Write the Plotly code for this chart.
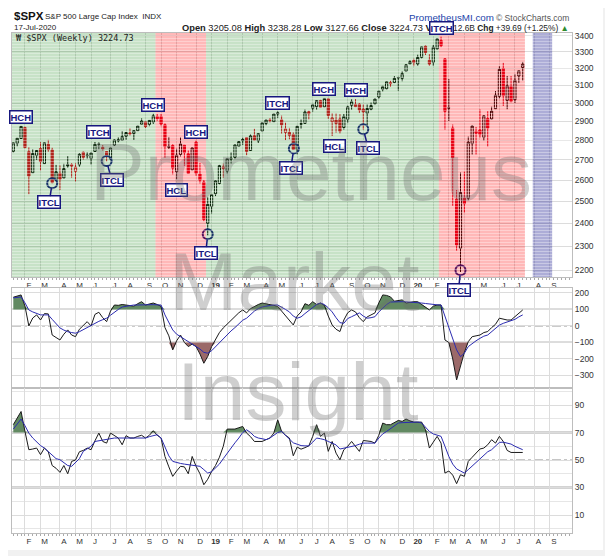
import numpy as np
import pandas as pd
import plotly.graph_objects as go

# weekly bars, Friday dates
dates = pd.date_range("2018-01-12", periods=132, freq="W-FRI")
prev_close0 = 2743.15

opens = [2743, 2784, 2809, 2867, 2741, 2636, 2722, 2757, 2681, 2779,
         2750, 2599, 2633, 2611, 2676, 2675, 2643, 2675, 2738, 2724,
         2706, 2742, 2781, 2763, 2742, 2704, 2775, 2797, 2800, 2821,
         2838, 2835, 2850, 2885, 2897, 2884, 2896, 2926, 2926, 2882,
         2763, 2773, 2641, 2727, 2774, 2730, 2650, 2790, 2630, 2591,
         2400, 2476, 2535, 2584, 2657, 2644, 2703, 2712, 2769, 2798,
         2814, 2747, 2823, 2797, 2848, 2889, 2908, 2898, 2940, 2908,
         2841, 2841, 2830, 2751, 2885, 2889, 2952, 2972, 2980, 3014,
         2979, 3024, 2898, 2907, 2913, 2867, 2910, 2988, 2980, 2994,
         2967, 2944, 2966, 2996, 3034, 3078, 3081, 3116, 3117, 3143,
         3141, 3183, 3227, 3247, 3226, 3266, 3334, 3248, 3236, 3318,
         3370, 3257, 2974, 2864, 2509, 2291, 2514, 2514, 2782, 2846,
         2854, 2815, 2915, 2913, 2969, 3038, 3199, 3015, 3094, 3019,
         3155, 3205.08]
highs = [2787, 2811, 2873, 2871, 2763, 2754, 2748, 2790, 2787, 2802,
         2761, 2675, 2672, 2680, 2718, 2683, 2682, 2733, 2742, 2739,
         2736, 2791, 2789, 2775, 2743, 2760, 2804, 2816, 2848, 2841,
         2863, 2851, 2876, 2916, 2898, 2906, 2941, 2940, 2940, 2889,
         2817, 2779, 2756, 2815, 2775, 2747, 2761, 2800, 2685, 2601,
         2520, 2532, 2598, 2675, 2681, 2708, 2738, 2776, 2795, 2814,
         2816, 2831, 2860, 2836, 2893, 2910, 2917, 2940, 2954, 2931,
         2893, 2865, 2841, 2876, 2911, 2964, 2958, 2996, 3014, 3018,
         3028, 3028, 2944, 2943, 2939, 2940, 2985, 3021, 3022, 3000,
         2993, 2993, 3003, 3027, 3067, 3098, 3121, 3127, 3154, 3150,
         3183, 3226, 3248, 3258, 3282, 3330, 3338, 3285, 3342, 3385,
         3394, 3260, 3137, 2883, 2553, 2637, 2641, 2819, 2880, 2870,
         2965, 2933, 2955, 2980, 3068, 3212, 3233, 3155, 3155, 3166,
         3186, 3238.28]
lows = [2737, 2768, 2808, 2759, 2533, 2636, 2700, 2647, 2681, 2741,
        2585, 2594, 2553, 2610, 2660, 2612, 2594, 2666, 2701, 2705,
        2676, 2742, 2753, 2747, 2692, 2699, 2770, 2789, 2800, 2803,
        2825, 2802, 2850, 2885, 2864, 2874, 2886, 2903, 2874, 2710,
        2755, 2628, 2604, 2717, 2670, 2631, 2649, 2621, 2584, 2409,
        2347, 2444, 2524, 2580, 2612, 2631, 2681, 2704, 2766, 2776,
        2723, 2747, 2800, 2786, 2848, 2879, 2893, 2898, 2919, 2835,
        2801, 2805, 2750, 2728, 2860, 2887, 2910, 2953, 2964, 2976,
        2978, 2914, 2822, 2840, 2836, 2856, 2891, 2964, 2978, 2946,
        2856, 2874, 2960, 2992, 3023, 3066, 3077, 3091, 3113, 3070,
        3124, 3183, 3226, 3213, 3214, 3260, 3280, 3214, 3214, 3315,
        3328, 2856, 2902, 2479, 2281, 2192, 2447, 2504, 2727, 2727,
        2812, 2798, 2767, 2910, 2969, 3026, 2984, 2966, 3004, 3000,
        3115, 3127.66]
closes = [2786.24, 2810.30, 2872.87, 2762.13, 2619.55, 2732.22, 2747.30, 2691.25, 2786.57, 2752.01,
          2588.26, 2640.87, 2604.47, 2656.30, 2670.14, 2669.91, 2663.42, 2727.72, 2712.97, 2721.33,
          2734.62, 2779.03, 2779.66, 2754.88, 2718.37, 2759.82, 2801.31, 2801.83, 2818.82, 2840.35,
          2833.28, 2850.13, 2874.69, 2901.52, 2871.68, 2904.98, 2929.67, 2913.98, 2885.57, 2767.13,
          2767.78, 2658.69, 2723.06, 2781.01, 2736.27, 2632.56, 2760.17, 2633.08, 2599.95, 2416.62,
          2485.74, 2531.94, 2596.26, 2670.71, 2664.76, 2706.53, 2707.88, 2775.60, 2792.67, 2803.69,
          2743.07, 2822.48, 2800.71, 2834.40, 2892.74, 2907.41, 2905.03, 2939.88, 2945.64, 2881.40,
          2859.53, 2826.06, 2752.06, 2873.34, 2886.98, 2950.46, 2941.76, 2990.41, 3013.77, 2976.61,
          3025.86, 2932.05, 2918.65, 2888.68, 2847.11, 2926.46, 2978.71, 3007.39, 2992.07, 2961.79,
          2952.01, 2970.27, 2986.20, 3022.55, 3066.91, 3093.08, 3120.46, 3110.29, 3140.98, 3145.91,
          3168.80, 3221.22, 3240.02, 3234.85, 3265.35, 3329.62, 3295.47, 3225.52, 3327.71, 3380.16,
          3337.75, 2954.22, 2972.37, 2711.02, 2304.92, 2541.47, 2488.65, 2789.82, 2874.56, 2836.74,
          2830.71, 2929.80, 2863.70, 2955.45, 3044.31, 3193.93, 3041.31, 3097.74, 3009.05, 3130.01,
          3185.04, 3224.73]

cci = [174, 180, 188, 120, 0, 48, 67, 36, 75, 73,
       -55, -70, -85, -50, -24, -55, -65, -20, 6, 26,
       0, 70, 83, 50, 26, 90, 127, 125, 130, 127,
       122, 120, 135, 147, 127, 132, 139, 130, 119, -10,
       -60, -145, -90, -55, -100, -125, -110, -125, -170, -226,
       -185, -125, -80, -40, -12, 12, 36, 60, 80, 97,
       79, 105, 120, 130, 139, 135, 127, 125, 118, 90,
       60, 35, 6, 60, 85, 135, 125, 147, 130, 139,
       125, 60, 6, -20, -34, 36, 80, 97, 85, 50,
       26, 55, 67, 79, 140, 188, 185, 176, 150, 155,
       158, 139, 145, 147, 147, 130, 115, 97, 120, 127,
       127, -85, -100, -200, -327, -240, -160, -95, -65, -60,
       -55, -40, -34, -10, 10, 47, 40, 36, 36, 55,
       75, 97]
cci_ma = [170, 173, 176, 140, 97, 85, 75, 67, 67, 67,
          40, 15, -12, -25, -35, -40, -44, -35, -22, -10,
          6, 15, 28, 38, 47, 65, 85, 100, 115, 120,
          124, 127, 127, 128, 130, 130, 129, 128, 127, 67,
          20, -24, -50, -65, -80, -95, -105, -120, -140, -160,
          -165, -150, -125, -105, -80, -55, -30, -10, 15, 35,
          47, 70, 90, 105, 115, 120, 125, 127, 127, 115,
          100, 85, 60, 47, 55, 75, 95, 115, 130, 139,
          130, 110, 85, 50, 20, 16, 45, 56, 70, 79,
          60, 47, 50, 56, 85, 110, 130, 145, 147, 147,
          147, 146, 145, 143, 140, 139, 136, 132, 130, 128,
          127, 60, -4, -80, -145, -186, -165, -125, -105, -90,
          -75, -62, -55, -35, -15, 5, 16, 25, 32, 40,
          55, 67]
rsi = [75.7, 80, 85.3, 70.8, 57.5, 58, 58.7, 53.9, 58.7, 56,
       46, 44, 41, 46, 40, 49, 50, 56, 57, 58.7,
       57.5, 64, 69.6, 63.5, 62.3, 69.6, 68, 66, 61.1, 67.7,
       66, 66, 67.2, 68, 66, 68, 71.3, 68, 66, 52.6,
       45, 38.1, 42, 45.4, 45, 40, 52.6, 45.4, 40, 32,
       36, 41.7, 46, 52, 60, 72.5, 72.5, 72.5, 73.5, 74.4,
       69.6, 67, 63.5, 63.5, 63.5, 64.8, 66, 69.6, 79.3, 70.8,
       68, 66, 53.1, 59.4, 57.9, 59, 60.3, 67.2, 75.7, 67.2,
       69.6, 56.3, 63.5, 55, 50.2, 57.5, 60, 63.5, 59.9, 56.3,
       64.2, 63.8, 63.5, 62.3, 68, 76.9, 75.7, 75.7, 77, 78.8,
       78.1, 79.8, 78.5, 77.6, 77.6, 77.6, 72, 58.7, 63, 67.2,
       62.3, 40.5, 42, 39, 32.8, 39.3, 38.1, 49, 52, 55.1,
       58, 58.7, 61.1, 64.8, 62.3, 67.2, 63.5, 57, 55.5, 55.5,
       55.5, 55.5]
rsi_ma = [72.5, 76, 79.8, 75, 69.6, 66, 63, 60.5, 58.7, 56,
          53, 51, 50.2, 48, 46, 45.4, 48, 51, 56.3, 58,
          60, 63.5, 64, 64.5, 65, 66, 66, 66, 66, 66,
          66, 66, 66, 66, 66, 67, 67.5, 68.4, 66, 59.9,
          53, 49, 48, 47.5, 47, 46.6, 46, 45.8, 45.4, 43,
          40.5, 41.5, 44.2, 47, 51, 55.1, 59, 62.5, 66, 70,
          72, 70, 67.2, 66, 65.5, 64.8, 66, 68, 70, 70.8,
          68, 64.8, 62.5, 61.5, 60.5, 60.3, 60.3, 63, 66, 65.5,
          64.8, 63.5, 62.3, 61, 58, 58.5, 59, 59.9, 60.5, 61.5,
          62.3, 62.3, 62.3, 62.3, 66, 69, 70.8, 73, 75, 76.9,
          77.2, 77.4, 77.6, 77.6, 77.6, 77, 74, 70.8, 69, 68,
          67.2, 60, 52.6, 47, 43.5, 42, 40.5, 43, 45.5, 47.8,
          51, 53.5, 56, 57.5, 60, 62.8, 63, 62.5, 61.6, 60,
          58.5, 57.5]

# month ticks (first bar of each month)
tick_dates = ["2018-02-02", "2018-03-02", "2018-04-06", "2018-05-04", "2018-06-01", "2018-07-06",
              "2018-08-03", "2018-09-07", "2018-10-05", "2018-11-02", "2018-12-07",
              "2019-01-04", "2019-02-01", "2019-03-01", "2019-04-05", "2019-05-03", "2019-06-07",
              "2019-07-05", "2019-08-02", "2019-09-06", "2019-10-04", "2019-11-01", "2019-12-06",
              "2020-01-03", "2020-02-07", "2020-03-06", "2020-04-03", "2020-05-01", "2020-06-05",
              "2020-07-02", "2020-08-07", "2020-09-04"]
tick_text = ["F", "M", "A", "M", "J", "J", "A", "S", "O", "N", "D",
             "<b>19</b>", "F", "M", "A", "M", "J", "J", "A", "S", "O", "N", "D",
             "<b>20</b>", "F", "M", "A", "M", "J", "J", "A", "S"]
price_ticks = [2200, 2300, 2400, 2500, 2600, 2700, 2800, 2900, 3000, 3100, 3200, 3300, 3400]

# cycle zones
zone_start = ["2018-01-09", "2018-09-25", "2018-12-25", "2020-02-17", "2020-08-04"]
zone_end = ["2018-09-25", "2018-12-25", "2020-02-17", "2020-07-21", "2020-09-08"]
zone_color = ["rgba(30,140,30,0.25)", "rgba(255,0,0,0.28)", "rgba(30,140,30,0.25)",
              "rgba(255,0,0,0.28)", "rgba(60,60,160,0.42)"]

# cycle labels
label_text = ["HCH", "ITCH", "HCH", "HCH", "HCL", "ITCH", "HCH", "HCH", "HCL"]
label_date = ["2018-01-26", "2018-06-15", "2018-09-21", "2018-12-07", "2018-11-02",
              "2019-05-03", "2019-07-26", "2019-09-20", "2019-08-14"]
label_price = [2921, 2842, 2989, 2842, 2554, 3000, 3079, 3075, 2769]
itcl_date = ["2018-03-23", "2018-06-29", "2018-12-28", "2019-06-01", "2019-10-04", "2020-03-27"]
itcl_price = [2585, 2694, 2351, 2758, 2858, 2199]
itcl_dx = [-3, 5, -2, -3, 5, -2]
itcl_dy = [19, 19, 19, 20, 19, 20]

navy = "#16167e"
red = "#e0001b"
grid = "#dcdcdc"
frame = "#bdbdbd"

closes_arr = np.array(closes)
prev = np.concatenate([[prev_close0], closes_arr[:-1]])
up = closes_arr >= prev

fig = go.Figure()

for mask, col in ((up, "#000000"), (~up, red)):
    fig.add_trace(go.Candlestick(
        x=dates[mask], open=np.array(opens)[mask], high=np.array(highs)[mask],
        low=np.array(lows)[mask], close=closes_arr[mask],
        increasing=dict(line=dict(color=col, width=1), fillcolor="white"),
        decreasing=dict(line=dict(color=col, width=1), fillcolor=col),
        whiskerwidth=0, xaxis="x", yaxis="y", hoverinfo="skip", showlegend=False))

# ITCL circles at the lows
fig.add_trace(go.Scatter(x=itcl_date, y=itcl_price, mode="markers", xaxis="x", yaxis="y",
                         marker=dict(symbol="circle-open", size=10, color=navy,
                                     line=dict(width=2, color=navy)),
                         hoverinfo="skip"))

# CCI panel
cci_arr = np.array(cci)
fig.add_trace(go.Scatter(x=dates, y=[100] * len(cci), mode="lines", line=dict(width=0),
                         xaxis="x2", yaxis="y2", hoverinfo="skip"))
fig.add_trace(go.Scatter(x=dates, y=np.maximum(cci_arr, 100), mode="lines", line=dict(width=0),
                         fill="tonexty", fillcolor="rgb(98,138,98)", xaxis="x2", yaxis="y2",
                         hoverinfo="skip"))
fig.add_trace(go.Scatter(x=dates, y=[-100] * len(cci), mode="lines", line=dict(width=0),
                         xaxis="x2", yaxis="y2", hoverinfo="skip"))
fig.add_trace(go.Scatter(x=dates, y=np.minimum(cci_arr, -100), mode="lines", line=dict(width=0),
                         fill="tonexty", fillcolor="rgb(155,105,105)", xaxis="x2", yaxis="y2",
                         hoverinfo="skip"))
fig.add_trace(go.Scatter(x=dates, y=cci, mode="lines", line=dict(color="#1a1a1a", width=1),
                         xaxis="x2", yaxis="y2", hoverinfo="skip"))
fig.add_trace(go.Scatter(x=dates, y=cci_ma, mode="lines", line=dict(color="#2b2bb0", width=1),
                         xaxis="x2", yaxis="y2", hoverinfo="skip"))

# RSI panel
rsi_arr = np.array(rsi)
fig.add_trace(go.Scatter(x=dates, y=[70] * len(rsi), mode="lines", line=dict(width=0),
                         xaxis="x3", yaxis="y3", hoverinfo="skip"))
fig.add_trace(go.Scatter(x=dates, y=np.maximum(rsi_arr, 70), mode="lines", line=dict(width=0),
                         fill="tonexty", fillcolor="rgb(98,138,98)", xaxis="x3", yaxis="y3",
                         hoverinfo="skip"))
fig.add_trace(go.Scatter(x=dates, y=rsi, mode="lines", line=dict(color="#1a1a1a", width=1),
                         xaxis="x3", yaxis="y3", hoverinfo="skip"))
fig.add_trace(go.Scatter(x=dates, y=rsi_ma, mode="lines", line=dict(color="#2b2bb0", width=1),
                         xaxis="x3", yaxis="y3", hoverinfo="skip"))

shapes = []
# white card on grey page
shapes.append(dict(type="rect", xref="paper", yref="paper", x0=-0.02, x1=1.0554, y0=-0.034, y1=1.06,
                   fillcolor="white", line=dict(width=0), layer="below"))
# overbought / oversold levels
for lvl, dash, col, w in ((100, "solid", "#7a7a7a", 1.2), (-100, "solid", "#7a7a7a", 1.2), (0, "dashdot", "#8a8a8a", 1)):
    shapes.append(dict(type="line", xref="x2 domain", yref="y2", x0=0, x1=1, y0=lvl, y1=lvl,
                       line=dict(color=col, width=w, dash=dash), layer="below"))
for lvl, dash, col, w in ((70, "solid", "#a8a8a8", 2), (30, "solid", "#a8a8a8", 2), (50, "dashdot", "#8a8a8a", 1)):
    shapes.append(dict(type="line", xref="x3 domain", yref="y3", x0=0, x1=1, y0=lvl, y1=lvl,
                       line=dict(color=col, width=w, dash=dash), layer="below"))
# cycle zones drawn over the candles
for s, e, c in zip(zone_start, zone_end, zone_color):
    shapes.append(dict(type="rect", xref="x", yref="y domain", x0=s, x1=e, y0=0, y1=1,
                       fillcolor=c, line=dict(width=0), layer="above"))
stripe_path = " ".join("M0,%.4f L1,%.4f" % (v, v) for v in np.arange(0.006, 1, 0.0123))
shapes.append(dict(type="path", xref="x domain", yref="y domain", path=stripe_path,
                   line=dict(color="rgba(255,255,255,0.35)", width=1), layer="above"))

box = dict(font=dict(family="Liberation Sans, Arial", size=9.5, color=navy), bgcolor="white",
           bordercolor=navy, borderwidth=1.5, borderpad=0, yanchor="middle")
annotations = []

# header
hfont = "Liberation Sans, Arial, sans-serif"
hdr = dict(xref="paper", yref="paper", showarrow=False, yanchor="middle")
annotations += [
    dict(x=0, y=1.034, xanchor="left", text="<b>$SPX</b>",
         font=dict(family=hfont, size=11.5, color="#111"), **hdr),
    dict(x=0.055, y=1.032, xanchor="left", text="S&P 500 Large Cap Index  INDX",
         font=dict(family=hfont, size=8, color="#222"), **hdr),
    dict(x=0, y=1.01, xanchor="left", text="17-Jul-2020",
         font=dict(family=hfont, size=8, color="#222"), **hdr),
    dict(x=(441 - 12) / 560, y=1.01, xanchor="right",
         text="<b>Open</b> 3205.08 <b>High</b> 3238.28 <b>Low</b> 3127.66 <b>Close</b> 3224.73 <b>Vol</b>",
         font=dict(family=hfont, size=9.3, color="#222"), **hdr),
    dict(x=(571 - 12) / 560, y=1.01, xanchor="right",
         text="12.6B <b>Chg</b> +39.69 (+1.25%) <span style='color:#2e8b2e'>▲</span>",
         font=dict(family=hfont, size=8.4, color="#222"), **hdr),
    dict(x=0.705, y=1.03, xanchor="left", text="PrometheusMI.com",
         font=dict(family=hfont, size=9.8, color="#2244aa"), **hdr),
    dict(x=0.998, y=1.03, xanchor="right", text="© StockCharts.com",
         font=dict(family=hfont, size=8.5, color="#555"), **hdr),
    dict(x=0.003, y=0.99, xanchor="left", text="₩ $SPX (Weekly) 3224.73",
         font=dict(family="DejaVu Sans Mono", size=8.5, color="#222"), **hdr),
]
for t, d, p in zip(label_text, label_date, label_price):
    annotations.append(dict(x=d, y=np.log10(p), xref="x", yref="y", text="<b>%s</b>" % t,
                            showarrow=False, **box))
annotations.append(dict(x="2020-02-21", y=1.01, xref="x", yref="paper", text="<b>ITCH</b>",
                        showarrow=False, **box))
for d, p, dx, dy in zip(itcl_date, itcl_price, itcl_dx, itcl_dy):
    annotations.append(dict(x=d, y=np.log10(p), xref="x", yref="y", text="<b>ITCL</b>",
                            showarrow=True, arrowhead=0, arrowwidth=1.5, arrowcolor=navy,
                            ax=dx, ay=dy, standoff=5, **box))
# watermark
wm = dict(family="Liberation Sans, Arial", size=82, color="rgba(110,110,110,0.33)")
annotations += [
    dict(x=(311 - 12) / 560, y=0.724, text="Prometheus", font=wm, **hdr),
    dict(x=(294 - 12) / 560, y=0.504, text="Market", font=wm, **hdr),
    dict(x=(298 - 12) / 560, y=0.284, text="Insight", font=wm, **hdr),
]

xcommon = dict(type="date", range=["2018-01-09 16:00", "2020-10-13 17:00"], tickmode="array",
               tickvals=tick_dates, ticktext=tick_text, showgrid=True, gridcolor=grid, gridwidth=1,
               showline=True, linecolor=frame, mirror=True, ticks="", zeroline=False,
               tickfont=dict(size=8, color="#333"), ticklabelshift=4,
               minor=dict(dtick=7 * 86400000, tick0="2018-01-12", ticks="outside", ticklen=2,
                          tickcolor="#aaaaaa", showgrid=False))
ycommon = dict(side="right", showgrid=True, gridcolor=grid, showline=True, linecolor=frame,
               mirror=True, ticks="", zeroline=False, tickfont=dict(size=8.5, color="#333"))

# the page adds an 8px body margin, so the figure is 8px smaller than the window
fig.update_layout(
    width=605, height=548,
    margin=dict(l=4, r=41, t=25, b=23),
    paper_bgcolor="#f1f1f1", plot_bgcolor="white",
    showlegend=False, boxgap=0.2,
    font=dict(family=hfont, size=9, color="#222"),
    xaxis=dict(anchor="y", rangeslider=dict(visible=False), **xcommon),
    xaxis2=dict(anchor="y2", matches="x", showticklabels=False,
                **{k: v for k, v in xcommon.items() if k != "minor"}),
    xaxis3=dict(anchor="y3", matches="x", **xcommon),
    yaxis=dict(domain=[0.512, 1], type="log", range=[np.log10(2172), np.log10(3417)],
               tickvals=price_ticks, ticktext=[str(v) for v in price_ticks], anchor="x", **ycommon),
    yaxis2=dict(domain=[0.29, 0.49], range=[-376, 230], tickvals=[-300, -200, -100, 0, 100, 200],
                anchor="x2", **ycommon),
    yaxis3=dict(domain=[0, 0.29], range=[-3.1, 102.4], tickvals=[10, 30, 50, 70, 90], anchor="x3",
                minor=dict(tickvals=[0, 20, 40, 60, 80, 100], showgrid=True, gridcolor="#e6e6e6"),
                **ycommon),
    shapes=shapes,
    annotations=annotations,
)

fig.write_html("out.html")
